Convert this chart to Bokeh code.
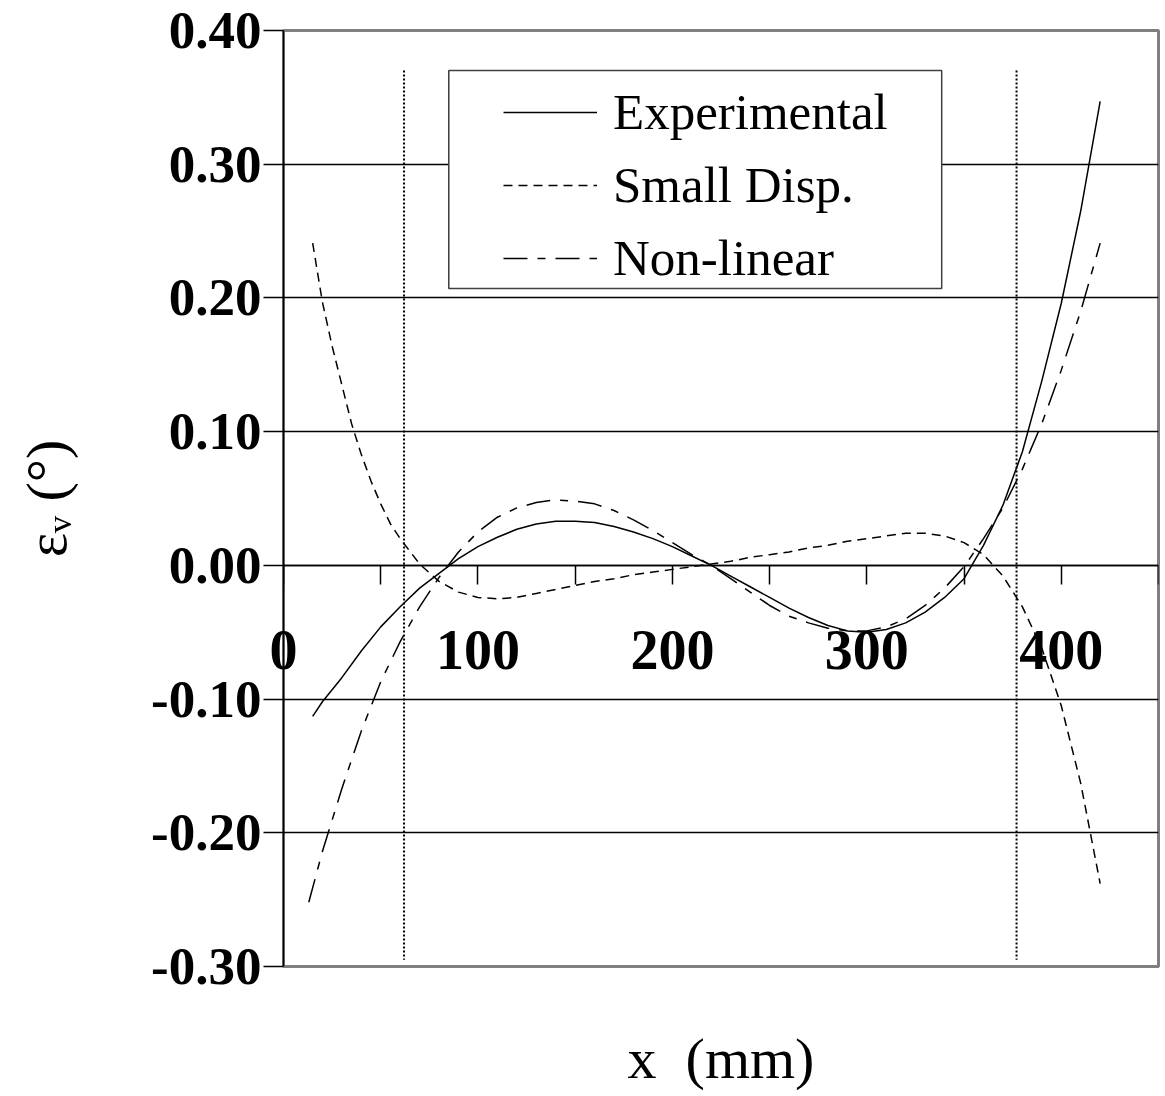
from bokeh.plotting import figure
from bokeh.models import (LinearAxis, FixedTicker, NumeralTickFormatter, Range1d,
                          BoxAnnotation, Legend, LegendItem)
from bokeh.embed import file_html
from bokeh.resources import INLINE

# ---- data -------------------------------------------------------------
exp_x = [15, 20, 30, 40, 50, 60, 70, 80, 90, 100, 110, 120, 130, 140, 150,
         160, 170, 180, 190, 200, 210, 220, 230, 240, 250, 260, 270, 280, 290,
         300, 310, 320, 330, 340, 350, 360, 370, 380, 390, 400, 410, 420]
exp_y = [-0.113, -0.102, -0.084, -0.064, -0.046, -0.031, -0.017, -0.006, 0.005,
         0.014, 0.021, 0.027, 0.031, 0.033, 0.033, 0.032, 0.029, 0.025, 0.020,
         0.014, 0.007, 0.000, -0.008, -0.016, -0.024, -0.032, -0.039, -0.045,
         -0.049, -0.050, -0.048, -0.043, -0.035, -0.024, -0.010, 0.015, 0.045,
         0.085, 0.138, 0.196, 0.265, 0.347]

small_x = [15, 20, 25, 30, 35, 40, 45, 50, 55, 60, 70, 80, 90, 100, 110, 120,
           130, 140, 150, 160, 170, 180, 190, 200, 210, 220, 230, 240, 250, 260,
           270, 280, 290, 300, 310, 320, 330, 340, 350, 360, 370, 380, 390, 400,
           410, 420]
small_y = [0.241, 0.197, 0.164, 0.135, 0.106, 0.083, 0.063, 0.046, 0.031, 0.020,
           0.001, -0.012, -0.020, -0.024, -0.025, -0.024, -0.021, -0.018, -0.015,
           -0.012, -0.010, -0.007, -0.005, -0.003, -0.001, 0.001, 0.003, 0.006,
           0.008, 0.010, 0.013, 0.015, 0.018, 0.020, 0.022, 0.024, 0.024, 0.022,
           0.017, 0.008, -0.008, -0.031, -0.062, -0.105, -0.163, -0.238]

nl_x = [13, 20, 30, 40, 50, 60, 70, 80, 90, 100, 110, 120, 130, 140, 150, 160,
        170, 180, 190, 200, 210, 220, 230, 240, 250, 260, 270, 280, 290, 300,
        310, 320, 330, 340, 350, 360, 370, 380, 390, 400, 410, 420]
nl_y = [-0.252, -0.214, -0.167, -0.124, -0.087, -0.057, -0.031, -0.009, 0.010,
        0.025, 0.036, 0.043, 0.047, 0.049, 0.048, 0.046, 0.041, 0.034, 0.026,
        0.017, 0.008, 0.000, -0.010, -0.020, -0.030, -0.038, -0.043, -0.047,
        -0.049, -0.049, -0.046, -0.040, -0.030, -0.017, -0.001, 0.020, 0.043,
        0.072, 0.106, 0.146, 0.190, 0.241]

# support positions (vertical dotted markers) and their vertical extent
support_x = [62, 377]
support_top = [0.37, 0.37]
support_bottom = [-0.295, -0.295]

x_ticks = [0, 100, 200, 300, 400]
x_minor = [50, 150, 250, 350, 450]
y_ticks = [-0.30, -0.20, -0.10, 0.00, 0.10, 0.20, 0.30, 0.40]

series_names = ["Experimental", "Small Disp.", "Non-linear"]

SERIF = "Liberation Serif"

# ---- figure -----------------------------------------------------------
p = figure(width=1165, height=1096, output_backend="svg", toolbar_location=None,
           x_range=Range1d(0, 450), y_range=Range1d(-0.30, 0.40),
           min_border_left=283, min_border_right=7, min_border_top=30,
           min_border_bottom=130)
p.background_fill_color = "white"
p.border_fill_color = "white"
p.outline_line_color = "#808080"
p.outline_line_width = 3

# horizontal grid at every 0.1
p.xgrid.visible = False
p.ygrid.ticker = FixedTicker(ticks=y_ticks)
p.ygrid.grid_line_color = "black"
p.ygrid.grid_line_width = 1.5

# y axis
yax = p.yaxis[0]
yax.ticker = FixedTicker(ticks=y_ticks, minor_ticks=[])
yax.formatter = NumeralTickFormatter(format="0.00")
yax.axis_line_color = "black"
yax.axis_line_width = 1.5
yax.major_tick_in = 0
yax.major_tick_out = 20
yax.major_tick_line_width = 1.5
yax.minor_tick_line_color = None
yax.major_label_standoff = 2
yax.major_label_text_font = SERIF
yax.major_label_text_font_style = "bold"
yax.major_label_text_font_size = "53px"
yax.major_label_text_color = "black"
yax.axis_label = "\u03b5\u1d65 (\u00b0)"
yax.axis_label_text_font = SERIF
yax.axis_label_text_font_style = "normal"
yax.axis_label_text_font_size = "58px"
yax.axis_label_text_color = "black"
yax.axis_label_standoff = 69

# bottom axis: its tick labels are pulled up to sit under the zero line,
# its title stays below the frame
bax = p.xaxis[0]
bax.ticker = FixedTicker(ticks=x_ticks, minor_ticks=[])
bax.axis_line_color = None
bax.major_tick_line_color = None
bax.minor_tick_line_color = None
bax.major_tick_in = 0
bax.major_tick_out = 0
bax.minor_tick_in = 0
bax.minor_tick_out = 0
bax.major_label_standoff = -336
bax.major_label_text_font = SERIF
bax.major_label_text_font_style = "bold"
bax.major_label_text_font_size = "56px"
bax.major_label_text_color = "black"
bax.axis_label = "x\u00a0\u00a0(mm)"
bax.axis_label_text_font = SERIF
bax.axis_label_text_font_style = "normal"
bax.axis_label_text_font_size = "58px"
bax.axis_label_text_color = "black"
bax.axis_label_standoff = 354

# x tick marks sit on the zero line
zax = LinearAxis(fixed_location=0,
                 ticker=FixedTicker(ticks=x_ticks, minor_ticks=x_minor))
zax.axis_line_color = "black"
zax.axis_line_width = 1.5
zax.major_tick_in = 0
zax.major_tick_out = 19
zax.minor_tick_in = 0
zax.minor_tick_out = 19
zax.major_tick_line_width = 1.5
zax.minor_tick_line_width = 1.5
zax.minor_tick_line_color = "black"
zax.major_label_overrides = {t: "" for t in x_ticks}
p.add_layout(zax, "below")

# support markers
p.segment(x0=support_x, y0=support_top, x1=support_x, y1=support_bottom,
          line_color="black", line_width=2, line_dash="2 2")

# curves
r_exp = p.line(exp_x, exp_y, line_color="black", line_width=1.5)
r_small = p.line(small_x, small_y, line_color="black", line_width=1.5,
                 line_dash="9 6")
r_nl = p.line(nl_x, nl_y, line_color="black", line_width=1.5,
              line_dash="24 10 8 10")

# legend frame
p.add_layout(BoxAnnotation(left=85, right=338.5, top=0.37, bottom=0.207,
                           fill_color="white", fill_alpha=1.0,
                           line_color="#404040", line_alpha=1.0,
                           line_width=1.5))

legend = Legend(items=[LegendItem(label=series_names[0], renderers=[r_exp]),
                       LegendItem(label=series_names[1], renderers=[r_small]),
                       LegendItem(label=series_names[2], renderers=[r_nl])],
                location=(220, 678), padding=0, spacing=13, margin=0,
                glyph_width=94, glyph_height=60, label_height=60,
                label_standoff=16,
                label_text_font=SERIF, label_text_font_size="51px",
                label_text_color="black",
                border_line_alpha=0, background_fill_alpha=0)
p.add_layout(legend, "center")

open("out.html", "w").write(file_html(p, INLINE))
